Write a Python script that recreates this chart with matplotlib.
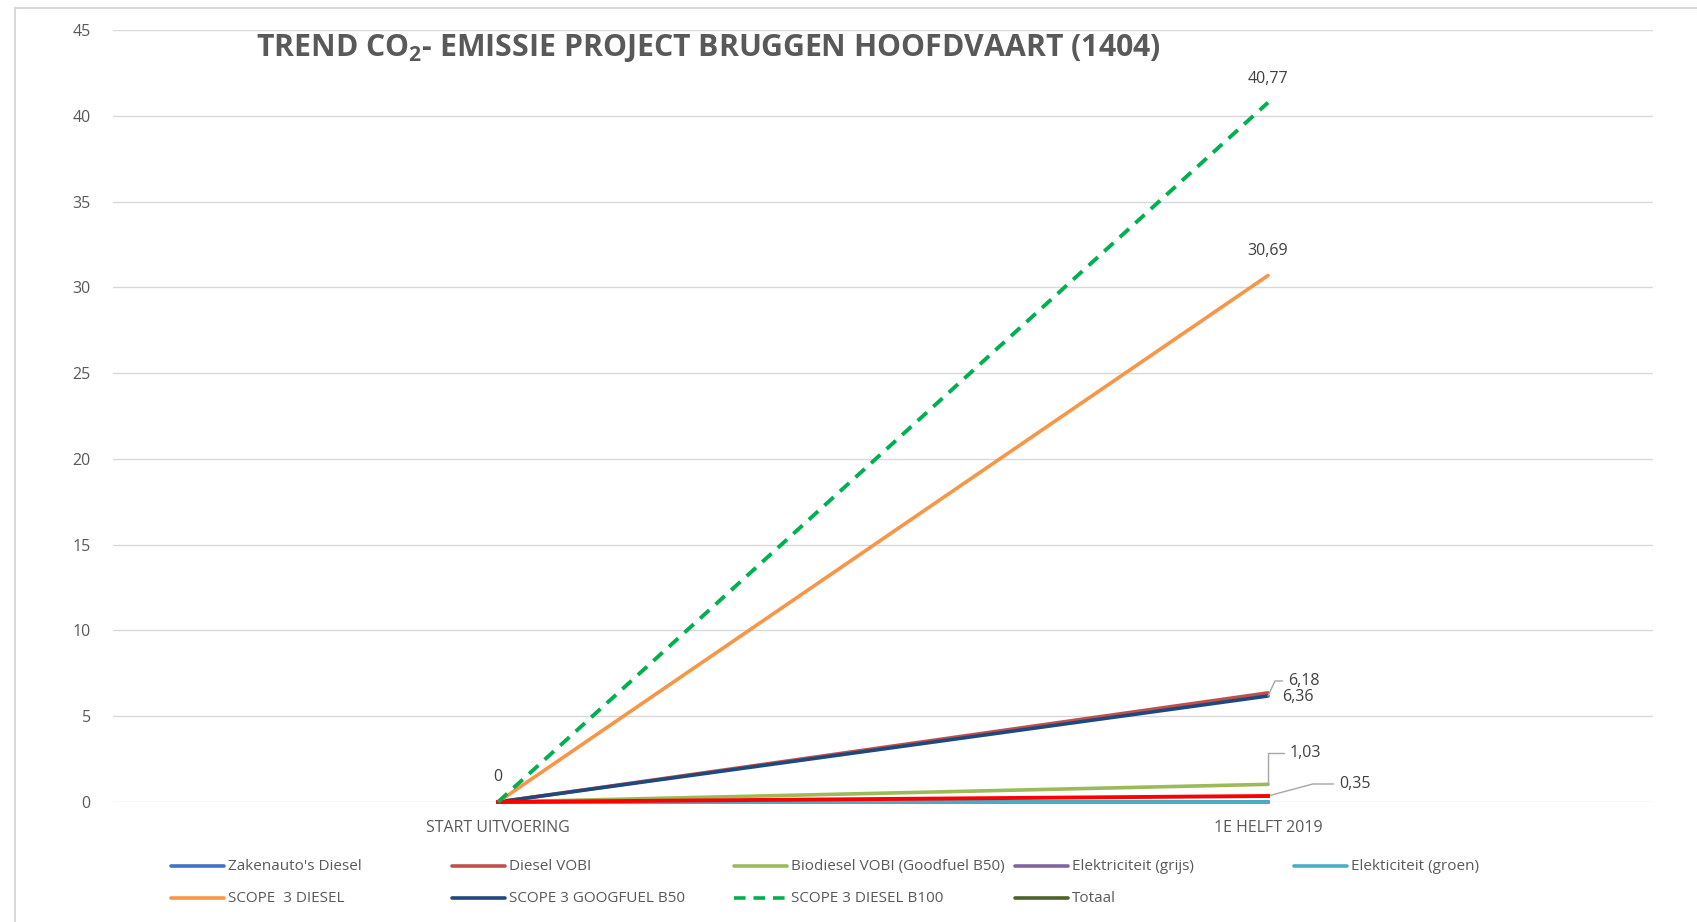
import matplotlib.pyplot as plt
import matplotlib.patches as patches
from matplotlib.lines import Line2D

plt.rcParams['font.family'] = ['Open Sans', 'DejaVu Sans']
plt.rcParams['mathtext.fontset'] = 'custom'
plt.rcParams['mathtext.rm'] = 'Open Sans'
plt.rcParams['mathtext.bf'] = 'Open Sans:bold'

# data
categories = ["START UITVOERING", "1E HELFT 2019"]
series_names = ["Zakenauto's Diesel", "Diesel VOBI", "Biodiesel VOBI (Goodfuel B50)",
                "Elektriciteit (grijs)", "Elekticiteit (groen)", "SCOPE  3 DIESEL",
                "SCOPE 3 GOOGFUEL B50", "SCOPE 3 DIESEL B100", "Totaal"]
series_values = [
    [0, 0],        # Zakenauto's Diesel
    [0, 6.36],     # Diesel VOBI
    [0, 1.03],     # Biodiesel VOBI
    [0, 0],        # Elektriciteit (grijs)
    [0, 0],        # Elekticiteit (groen)
    [0, 30.69],    # SCOPE 3 DIESEL
    [0, 6.18],     # SCOPE 3 GOOGFUEL B50
    [0, 40.77],    # SCOPE 3 DIESEL B100
    [0, 0],        # Totaal
]
extra_red = [0, 0.35]  # unlabeled red series (not in legend)

colors = ["#4472C4", "#C0504D", "#9BBB59", "#8064A2", "#4BACC6",
          "#F79646", "#1F497D", "#00B050", "#4F6228"]

W, H = 1697, 922
fig = plt.figure(figsize=(W / 100, H / 100), dpi=100)
ax = fig.add_axes([113 / W, 1 - 802 / H, 1540 / W, 772 / H])

dash = (0, (3.2, 2.2))
x = list(range(len(categories)))
# draw order: bottom series first
order = [8, 0, 3, 4, 2, 1, 6, 5, 7]
for i in order:
    ls = dash if i == 7 else '-'
    ax.plot(x, series_values[i], color=colors[i], lw=2.8 if i == 7 else 2.6, linestyle=ls,
            solid_capstyle='round', dash_capstyle='butt', clip_on=False,
            zorder=3 + (i == 7))
ax.plot(x, extra_red, color="#FF0000", lw=2.8, clip_on=False, zorder=3.5)
ax.plot(x, series_values[4], color=colors[4], lw=2.6, clip_on=False, zorder=3.4)

ax.set_xlim(-0.5, 1.5)
ax.set_ylim(0, 45)
ax.set_yticks(range(0, 46, 5))
ax.set_xticks(x)
ax.set_xticklabels(categories)
ax.grid(axis='y', color='#D9D9D9', lw=1.0)
ax.set_axisbelow(True)
for s in ax.spines.values():
    s.set_visible(False)
ax.tick_params(length=0, colors='#595959', labelsize=11.5)
ax.tick_params(axis='y', pad=16)
ax.tick_params(axis='x', pad=13)

lab_kw = dict(textcoords='offset pixels', fontsize=11.5, color='#404040', va='center')
lead = dict(arrowstyle='-', color='#A6A6A6', lw=1.0, shrinkA=2, shrinkB=0)
ax.annotate("0", (0, 0), xytext=(0, 25), ha='center', **lab_kw)
ax.annotate("40,77", (1, series_values[7][1]), xytext=(0, 24), ha='center', **lab_kw)
ax.annotate("30,69", (1, series_values[5][1]), xytext=(0, 24), ha='center', **lab_kw)
ax.annotate("6,36", (1, series_values[1][1]), xytext=(14, -4), ha='left', **lab_kw)
ax.annotate("6,18", (1, series_values[6][1]), xytext=(20, 15), ha='left',
            arrowprops=dict(connectionstyle="angle,angleA=180,angleB=65,rad=0", **lead), **lab_kw)
ax.annotate("1,03", (1, series_values[2][1]), xytext=(22, 31), ha='left',
            arrowprops=dict(connectionstyle="angle,angleA=180,angleB=90,rad=0", **lead), **lab_kw)
ax.annotate("0,35", (1, extra_red[1]), xytext=(71, 12), ha='left',
            arrowprops=dict(connectionstyle="angle,angleA=180,angleB=15,rad=0", **lead), **lab_kw)

# title
fig.text(708 / W, 1 - 48 / H, r"TREND CO$_{\mathbf{2}}$- EMISSIE PROJECT BRUGGEN HOOFDVAART (1404)",
         ha='center', va='center', fontsize=21.8, fontweight='bold', color='#595959')

# legend (manual, Excel-like grid)
col_x = [171, 452, 734, 1015, 1294]
row_y = [866, 898]
for k, name in enumerate(series_names):
    r, c = divmod(k, 5)
    x0 = col_x[c]
    y0 = 1 - row_y[r] / H
    ls = dash if k == 7 else '-'
    fig.add_artist(Line2D([x0 / W, (x0 + 53) / W], [y0, y0], color=colors[k], lw=2.6,
                          linestyle=ls, solid_capstyle='round', transform=fig.transFigure))
    fig.text((x0 + 57) / W, y0, name, ha='left', va='center', fontsize=11, color='#595959')

# chart frame
fig.add_artist(patches.Rectangle((15 / W, -0.1), 1.2, 1.1 - 8 / H, fill=False,
                                 edgecolor='#D9D9D9', lw=1.5, transform=fig.transFigure))

fig.savefig("out.png", dpi=100)
